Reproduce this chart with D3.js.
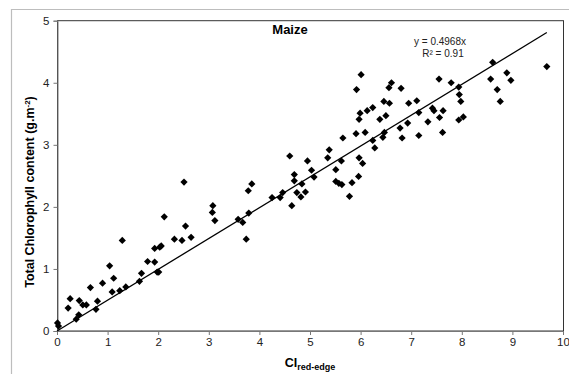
<!DOCTYPE html>
<html>
<head>
<meta charset="utf-8">
<script src="https://cdn.jsdelivr.net/npm/d3@7"></script>
<style>
  html, body { margin: 0; padding: 0; background: #fff; }
  svg { display: block; font-family: "Liberation Sans", Arial, sans-serif; }
</style>
</head>
<body>
<svg id="chart" width="569" height="374"></svg>
<script>
// CI red-edge index vs. total chlorophyll content, maize samples
const ciRedEdge = [
  0.01, 0.03, 0.22, 0.26, 0.38, 0.43, 0.44, 0.51, 0.58, 0.66,
  0.77, 0.80, 0.90, 1.04, 1.09, 1.12, 1.24, 1.29, 1.36, 1.63,
  1.67, 1.79, 1.93, 1.93, 1.98, 2.01, 2.03, 2.06, 2.12, 2.32,
  2.47, 2.51, 2.54, 2.65, 3.08, 3.07, 3.12, 3.58, 3.67, 3.74,
  3.79, 3.78, 3.85, 4.25, 4.41, 4.46, 4.60, 4.64, 4.69, 4.69,
  4.74, 4.82, 4.84, 4.91, 4.95, 5.03, 5.08, 5.38, 5.35, 5.51,
  5.62, 5.51, 5.57, 5.63, 5.78, 5.83, 5.96, 5.97, 6.04, 6.24,
  6.28, 5.65, 6.01, 5.92, 6.61, 6.56, 6.80, 7.55, 6.46, 6.57,
  6.24, 6.13, 5.99, 5.97, 6.38, 6.50, 6.95, 7.11, 7.15, 7.42,
  7.45, 7.56, 7.33, 6.93, 6.78, 6.82, 7.15, 6.47, 6.44, 6.09,
  5.91, 9.68, 8.61, 8.89, 8.97, 8.57, 8.70, 8.76, 7.79, 7.94,
  7.95, 7.98, 7.63, 7.94, 8.03, 7.62
];
const chlorophyll = [
  0.13, 0.08, 0.37, 0.52, 0.19, 0.26, 0.49, 0.42, 0.42, 0.70,
  0.35, 0.48, 0.77, 1.05, 0.63, 0.85, 0.65, 1.46, 0.71, 0.80,
  0.93, 1.12, 1.33, 1.11, 0.95, 0.95, 1.35, 1.37, 1.84, 1.48,
  1.46, 2.40, 1.69, 1.51, 2.02, 1.91, 1.78, 1.80, 1.75, 1.48,
  1.90, 2.26, 2.37, 2.15, 2.15, 2.23, 2.82, 2.02, 2.52, 2.42,
  2.23, 2.16, 2.37, 2.24, 2.74, 2.59, 2.48, 2.92, 2.79, 2.60,
  2.74, 2.41, 2.38, 2.36, 2.17, 2.39, 2.49, 2.79, 2.70, 3.07,
  2.95, 3.11, 4.13, 3.89, 4.00, 3.92, 3.91, 4.06, 3.70, 3.67,
  3.60, 3.55, 3.51, 3.41, 3.41, 3.47, 3.67, 3.71, 3.52, 3.59,
  3.55, 3.44, 3.37, 3.35, 3.27, 3.11, 3.15, 3.20, 3.12, 3.20,
  3.18, 4.26, 4.33, 4.16, 4.04, 4.06, 3.89, 3.70, 4.00, 3.93,
  3.81, 3.70, 3.55, 3.40, 3.45, 3.20
];
const xTicks = [0, 1, 2, 3, 4, 5, 6, 7, 8, 9, 10];
const yTicks = [0, 1, 2, 3, 4, 5];
const slope = 0.4968;
const rSquared = "0.91";

const svg = d3.select("#chart");
const margin = { left: 57, top: 20.7, right: 563, bottom: 331 };

const x = d3.scaleLinear().domain([0, 10]).range([margin.left, margin.right]);
const y = d3.scaleLinear().domain([0, 5]).range([margin.bottom, margin.top]);

// outer chart frame
svg.append("path")
  .attr("d", "M11.5,374 L11.5,9.5 L569,9.5")
  .attr("fill", "none")
  .attr("stroke", "#bdbdbd")
  .attr("stroke-width", 1.2);

// plot area border
svg.append("rect")
  .attr("x", margin.left + 0.5)
  .attr("y", margin.top)
  .attr("width", margin.right - margin.left)
  .attr("height", margin.bottom - margin.top)
  .attr("fill", "none")
  .attr("stroke", "#333")
  .attr("stroke-width", 1);

// axes
const xAxis = svg.append("g")
  .attr("transform", `translate(0,${margin.bottom})`)
  .call(d3.axisBottom(x).tickValues(xTicks).tickFormat(d3.format("d")).tickSize(4).tickPadding(3));
const yAxis = svg.append("g")
  .attr("transform", `translate(${margin.left + 0.5},0)`)
  .call(d3.axisLeft(y).tickValues(yTicks).tickFormat(d3.format("d")).tickSize(4).tickPadding(4));

[xAxis, yAxis].forEach(g => {
  g.select(".domain").attr("stroke", "#777");
  g.selectAll(".tick line").attr("stroke", "#777");
  g.selectAll(".tick text")
    .attr("fill", "#222")
    .style("font-size", "11.5px")
    .style("font-family", "'Liberation Sans', Arial, sans-serif");
});

// regression line through the origin
const xMax = d3.max(ciRedEdge);
svg.append("line")
  .attr("x1", x(0)).attr("y1", y(0))
  .attr("x2", x(xMax)).attr("y2", y(slope * xMax))
  .attr("stroke", "#000")
  .attr("stroke-width", 1.3);

// sample points (diamonds)
const points = ciRedEdge.map((v, i) => ({ ci: v, chl: chlorophyll[i] }));
const diamond = d3.symbol().type(d3.symbolSquare).size(26);
svg.append("g").selectAll("path")
  .data(points)
  .join("path")
  .attr("d", diamond)
  .attr("transform", d => `translate(${x(d.ci)},${y(d.chl)}) rotate(45)`)
  .attr("fill", "#000");

// title
svg.append("text")
  .attr("x", 290).attr("y", 34)
  .attr("text-anchor", "middle")
  .style("font-size", "13px")
  .style("font-weight", "bold")
  .text("Maize");

// regression equation
svg.append("text")
  .attr("x", 440).attr("y", 45)
  .attr("text-anchor", "middle")
  .style("font-size", "10px")
  .attr("fill", "#222")
  .text(`y = ${slope}x`);
svg.append("text")
  .attr("x", 443).attr("y", 57)
  .attr("text-anchor", "middle")
  .style("font-size", "10px")
  .attr("fill", "#222")
  .text(`R² = ${rSquared}`);

// y-axis title
const yTitle = svg.append("text")
  .attr("transform", "translate(34,192) rotate(-90)")
  .attr("text-anchor", "middle")
  .style("font-size", "12.5px")
  .style("font-weight", "bold");
yTitle.append("tspan").text("Total Chlorophyll content (g.m");
yTitle.append("tspan").attr("dy", -4).style("font-size", "8px").text("-2");
yTitle.append("tspan").attr("dy", 4).text(")");

// x-axis title
const xTitle = svg.append("text")
  .attr("x", 310).attr("y", 367)
  .attr("text-anchor", "middle")
  .style("font-weight", "bold")
  .style("font-size", "12.5px");
xTitle.append("tspan").text("CI");
xTitle.append("tspan").attr("dy", 3).style("font-size", "9px").text("red-edge");
</script>
</body>
</html>
